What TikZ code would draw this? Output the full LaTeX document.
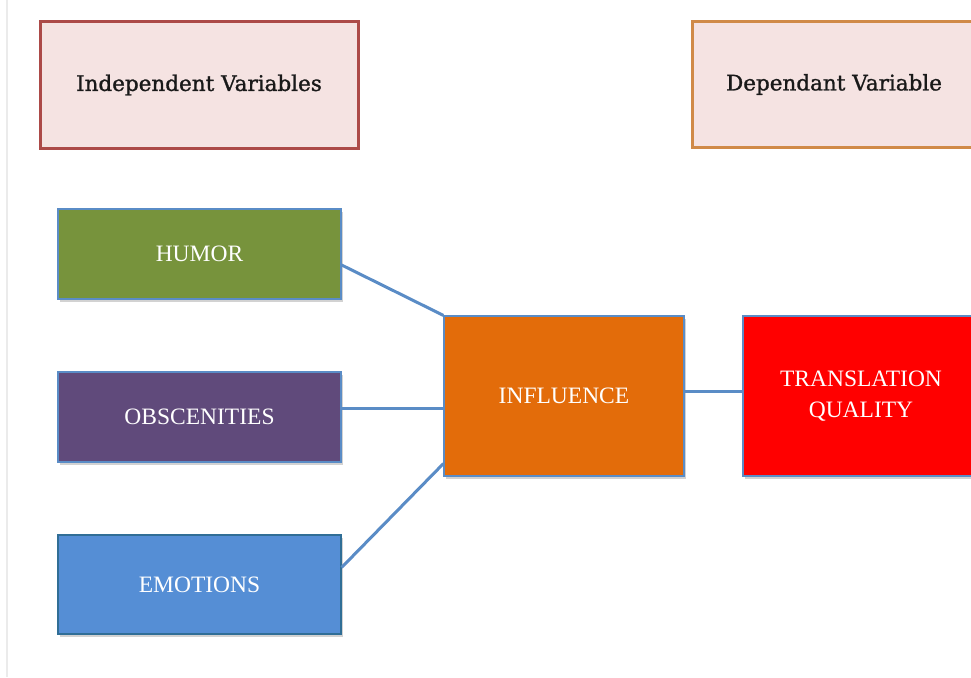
\documentclass[tikz,border=0pt]{standalone}
\usepackage{fontspec}
\setmainfont{Liberation Serif}
\newfontfamily\headfont[FakeBold=1.2]{DejaVu Serif}
\usetikzlibrary{shadows}
\definecolor{headfill}{HTML}{F5E3E2}
\definecolor{indline}{HTML}{AC4A48}
\definecolor{depline}{HTML}{D08A48}
\definecolor{humorc}{HTML}{77933C}
\definecolor{obscc}{HTML}{604A7B}
\definecolor{emotc}{HTML}{558ED5}
\definecolor{inflc}{HTML}{E36C0A}
\definecolor{linkc}{HTML}{5A8CC6}
\tikzset{
  head/.style={draw,line width=3pt,fill=headfill,font=\headfont\fontsize{21.5}{24}\selectfont,text=black!90},
  var/.style={draw=linkc,line width=1.2pt,text=white,font=\fontsize{23.5}{31}\selectfont,
    align=center,drop shadow={shadow xshift=1.5pt,shadow yshift=-3pt,opacity=0.35}},
  link/.style={linkc,line width=3pt}
}
\begin{document}
\begin{tikzpicture}[x=1pt,y=-1pt]
\useasboundingbox[fill=white](0,0)rectangle(971,677);
\draw[black!8,line width=1.2pt](7,0)--(7,677);
\clip(0,0)rectangle(971,677);
% headings
\node[head,draw=indline,minimum width=318pt,minimum height=126pt](ind)at(199,85){Independent Variables};
\node[head,draw=depline,minimum width=284pt,minimum height=125pt](dep)at(834,84.5){Dependant Variable};
% variables
\node[var,fill=humorc,minimum width=283pt,minimum height=90pt](humor)at(199.5,254){HUMOR};
\node[var,fill=obscc,minimum width=283pt,minimum height=90pt](obsc)at(199.5,417){OBSCENITIES};
\node[var,fill=emotc,draw=emotc!70!teal!80!black,minimum width=283pt,minimum height=99pt](emot)at(199.5,584.5){EMOTIONS};
\node[var,fill=inflc,minimum width=240pt,minimum height=160pt](infl)at(564,396){INFLUENCE};
\node[var,fill=red,minimum width=236pt,minimum height=160pt](tq)at(861,396){TRANSLATION\\QUALITY};
% links
\draw[link]([yshift=-11pt]humor.east)--(infl.north west);
\draw[link]([yshift=9pt]obsc.east)--([yshift=-12pt]infl.west);
\draw[link]([yshift=17pt]emot.east)--([yshift=13pt]infl.south west);
\draw[link]([yshift=5pt]infl.east)--([yshift=5pt]tq.west);
\end{tikzpicture}
\end{document}
